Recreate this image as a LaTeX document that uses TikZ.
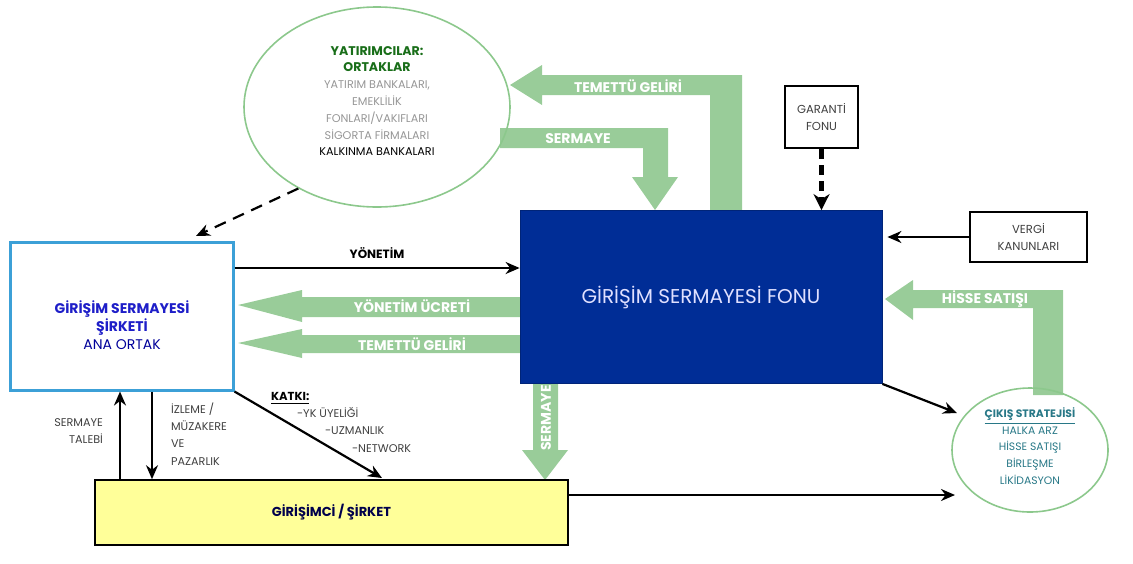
\documentclass[tikz,border=0pt]{standalone}
\usepackage{fontspec}
\setmainfont{Poppins}
\usetikzlibrary{arrows.meta,shapes.geometric}
\definecolor{garrow}{RGB}{153,204,153}
\definecolor{cgreen}{RGB}{140,200,140}
\definecolor{fundblue}{RGB}{0,45,150}
\definecolor{cyanb}{RGB}{60,160,215}
\definecolor{lyellow}{RGB}{255,255,153}
\definecolor{teal}{RGB}{40,120,135}
\definecolor{dgreen}{RGB}{25,110,25}
\definecolor{gtext}{RGB}{150,150,150}
\definecolor{dblue}{RGB}{30,30,200}
\newcommand{\fs}[2]{\fontsize{#1}{#2}\selectfont}
\begin{document}
\begin{tikzpicture}[x=0.5pt,y=-0.5pt,
  arr/.style={draw=black,line width=1.1pt,-{Stealth[length=7pt,width=6pt]}},
  dasharr/.style={draw=black,line width=1.1pt,dash pattern=on 6pt off 4pt,-{Stealth[length=7pt,width=6pt]}},
  gshape/.style={fill=garrow,draw=none},
  glabel/.style={text=white,font=\bfseries\fs{7}{8}},
  smalltxt/.style={font=\fs{5.6}{8.6},text=black!75},
  boxb/.style={draw=black,line width=1pt,align=center,font=\fs{5.8}{8.5},text=black!75}]
\useasboundingbox (0,0) rectangle (1133,563);
% green arrow shapes
\fill[gshape] (510,85) -- (542,65) -- (542,75) -- (742,75) -- (742,210) -- (710,210) -- (710,95) -- (542,95) -- (542,105) -- cycle;
\fill[gshape] (500,128) -- (668,128) -- (668,177) -- (678,177) -- (655,210) -- (632,177) -- (643,177) -- (643,148) -- (500,148) -- cycle;
\fill[gshape] (885,299) -- (913,280) -- (913,290) -- (1063,290) -- (1063,395) -- (1033,395) -- (1033,308) -- (913,308) -- (913,320) -- cycle;
\fill[gshape] (238,305) -- (302,290) -- (302,297) -- (520,297) -- (520,317) -- (302,317) -- (302,322) -- cycle;
\fill[gshape] (238,343) -- (302,329) -- (302,335) -- (520,335) -- (520,353) -- (302,353) -- (302,358) -- cycle;
\fill[gshape] (533,383) -- (558,383) -- (558,450) -- (568,450) -- (545,480) -- (522,450) -- (533,450) -- cycle;
\node[glabel] (lTem1) at (628,86) {TEMETTÜ GELİRİ};
\node[glabel] (lSer1) at (578,139) {SERMAYE};
\node[glabel] (lHis) at (985,299) {HİSSE SATIŞI};
\node[glabel] (lYuc) at (412,306) {YÖNETİM ÜCRETİ};
\node[glabel] (lTem2) at (412,344) {TEMETTÜ GELİRİ};
\node[glabel,rotate=90] (lSer2) at (546,418) {SERMAYE};
% main nodes
\node[ellipse,draw=cgreen,line width=0.8pt,minimum width=133pt,minimum height=100pt] (inv) at (377,107) {};
\node[align=center,font=\fs{5.6}{8.4},text=gtext] (invtxt) at (377,101)
 {{\color{dgreen}\bfseries\fs{6.3}{9.6}YATIRIMCILAR:}\\{\color{dgreen}\bfseries\fs{6.3}{9.6}ORTAKLAR}\\YATIRIM BANKALARI,\\EMEKLİLİK\\FONLARI/VAKIFLARI\\SİGORTA FİRMALARI\\{\color{black}KALKINMA BANKALARI}};
\node[draw=fundblue!80!black,fill=fundblue,minimum width=181pt,minimum height=86.5pt,text=blue!12,font=\fs{10}{12}] (fund) at (701,297) {GİRİŞİM SERMAYESİ FONU};
\node[boxb,minimum width=36.5pt,minimum height=31pt] (gar) at (821.5,117) {GARANTİ\\FONU};
\node[boxb,minimum width=58.5pt,minimum height=25pt] (ver) at (1028.5,237) {VERGİ\\KANUNLARI};
\node[draw=cyanb,line width=1.5pt,minimum width=111.5pt,minimum height=74pt] (left) at (121.5,316) {};
\node[align=center,text=dblue,font=\bfseries\fs{7}{9}] (lefttxt) at (122,325) {GİRİŞİM SERMAYESİ\\ŞİRKETİ\\{\mdseries\color{blue!60!black}ANA ORTAK}};
\node[draw=black,line width=0.8pt,fill=lyellow,minimum width=236.5pt,minimum height=32.5pt,text=blue!30!black,font=\bfseries\fs{6.5}{8}] (yel) at (331.5,512.5) {GİRİŞİMCİ / ŞİRKET};
\node[ellipse,draw=cgreen,line width=0.8pt,minimum width=78pt,minimum height=62pt] (exit) at (1030,450) {};
\node[align=center,text=teal,font=\fs{5.4}{8.4}] (exittxt) at (1030,446) {{\bfseries\underline{ÇIKIŞ STRATEJİSİ}}\\HALKA ARZ\\HİSSE SATIŞI\\BİRLEŞME\\LİKİDASYON};
% connectors
\coordinate (yA) at (0,268);
\draw[arr] (left.east |- yA) -- (fund.west |- yA) node[midway,above=1pt,font=\bfseries\fs{6}{7},text=black] (lYon) {YÖNETİM};
\draw[dasharr,line width=2.2pt,dash pattern=on 5pt off 3pt,-{Stealth[length=8pt,width=8pt]}] (gar.south) -- (fund.north -| gar.south);
\draw[arr,shorten >=2.5pt] (ver.west) -- (fund.east |- ver.west);
\coordinate (dEnd) at (196,236);
\draw[dasharr] (inv.226) -- (dEnd);
\coordinate (xEnd) at (957,413);
\draw[arr] (fund.south east) -- (xEnd);
\coordinate (yEnd) at (955,495);
\draw[arr] (yel.east |- yEnd) -- (yEnd);
\draw[arr] (yel.north -| 120,0) -- (left.south -| 120,0);
\draw[arr] (left.south -| 152,0) -- (yel.north -| 152,0);
\coordinate (kEnd) at (382,478);
\draw[arr] (left.south east) -- (kEnd);
% labels
\node[smalltxt,align=right,anchor=east] (lTal) at (110,431) {SERMAYE\\TALEBİ};
\node[smalltxt,align=left,anchor=west] (lIzl) at (164,434) {İZLEME /\\MÜZAKERE\\VE\\PAZARLIK};
\node[font=\bfseries\fs{5.8}{7},text=black,anchor=west] (lKat) at (264,398) {\underline{KATKI:}};
\node[smalltxt,anchor=west] (lk1) at (290,413) {-YK ÜYELİĞİ};
\node[smalltxt,anchor=west] (lk2) at (318,431) {-UZMANLIK};
\node[smalltxt,anchor=west] (lk3) at (345,449) {-NETWORK};
\end{tikzpicture}
\end{document}
